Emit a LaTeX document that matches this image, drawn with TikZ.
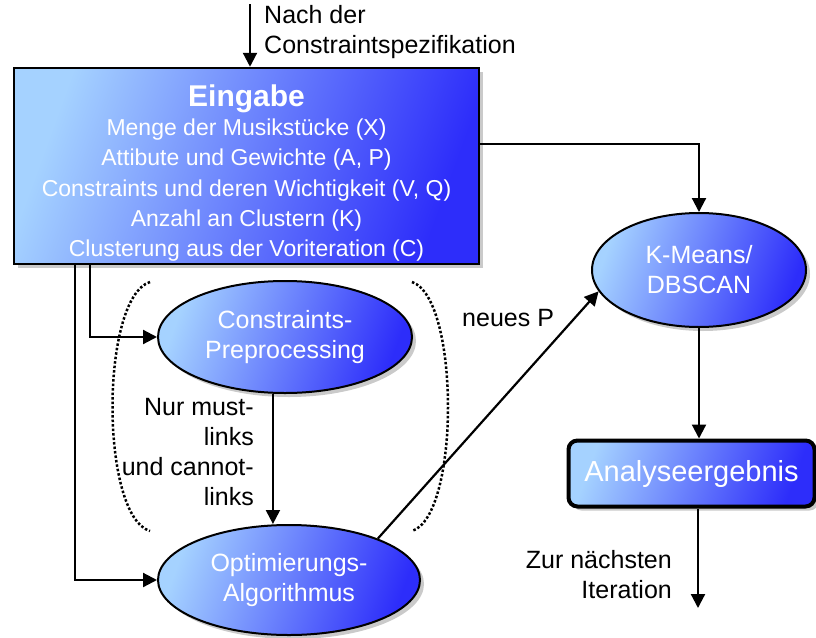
\documentclass[tikz,border=0pt]{standalone}
\usepackage{fontspec}
\setmainfont{Liberation Sans}
\usetikzlibrary{arrows.meta,shapes.geometric,shadows}
\definecolor{lb}{RGB}{165,210,255}
\definecolor{mb}{RGB}{95,125,255}
\definecolor{db}{RGB}{45,45,250}
\begin{document}
\begin{tikzpicture}[x=1pt,y=-1pt,
  blueshade/.style={left color=lb, middle color=mb, right color=db, shading angle=70},
  shad/.style={drop shadow={shadow xshift=4pt, shadow yshift=-4pt, fill=gray!70, opacity=0.6}},
  inbox/.style={rectangle, draw=black, line width=2.5pt, blueshade, shad, text=white, align=center, inner sep=0pt, font=\fontsize{23}{30}\selectfont},
  proc/.style={ellipse, draw=black, line width=2pt, blueshade, shad, text=white, align=center, inner sep=0pt, font=\fontsize{25}{30}\selectfont},
  result/.style={rectangle, rounded corners=9pt, draw=black, line width=4pt, blueshade, shad, text=white, inner sep=0pt, font=\fontsize{29}{32}\selectfont},
  lbl/.style={text=black, font=\fontsize{25}{30}\selectfont, inner sep=0pt},
  arr/.style={draw=black, line width=2.2pt, -{Triangle[length=14pt, width=14pt]}},
  brack/.style={draw=black, line width=2.5pt, dotted}
]
\useasboundingbox (0,0) rectangle (816,637);

% nodes
\node[inbox, minimum width=465pt, minimum height=196pt] (eing) at (246.5,166)
  {\rule{0pt}{36pt}{\fontsize{30}{30}\selectfont\bfseries Eingabe}\\[-1pt]
   Menge der Musikstücke (X)\\
   Attibute und Gewichte (A, P)\\[1pt]
   Constraints und deren Wichtigkeit (V, Q)\\
   Anzahl an Clustern (K)\\
   Clusterung aus der Voriteration (C)};
\node[proc, minimum width=254pt, minimum height=112pt] (cp) at (285,337) {Constraints-\\Preprocessing};
\node[proc, minimum width=262pt, minimum height=110pt] (opt) at (289,580) {Optimierungs-\\Algorithmus};
\node[proc, minimum width=214pt, minimum height=114pt] (km) at (699,270) {K-Means/\\DBSCAN};
\node[result, minimum width=246pt, minimum height=66pt] (ana) at (691.5,473.5) {Analyseergebnis};

% labels
\node[lbl, anchor=west, align=left] (nach) at (264,32) {Nach der\\Constraintspezifikation};
\node[lbl, anchor=east, align=right] (nur) at (254,452) {Nur must-\\links\\und cannot-\\links};
\node[lbl, anchor=east, align=right] (zur) at (672,575) {Zur nächsten\\Iteration};

% helper coordinates
\coordinate (topin) at (250,4);
\coordinate (c75) at (75,0);
\coordinate (c90) at (90,0);
\coordinate (c144) at (0,144);
\coordinate (out) at (698,608);

% connectors
\draw[arr] (topin) -- (topin |- eing.north);
\draw[arr] (eing.east |- c144) -| (km.north);
\draw[arr] (eing.south -| c90) |- (cp.west);
\draw[arr] (eing.south -| c75) |- (opt.west);
\draw[arr] (cp.-102) -- (cp.-102 |- opt.north);
\draw[arr] (opt.25) -- node[lbl, pos=0.83, above left=6pt] (np) {neues P} (km.192);
\draw[arr] (km.south) -- (km.south |- ana.north);
\draw[arr] (out |- ana.south) -- (out);

% dotted brackets
\draw[brack] (150,282) .. controls (100,298) and (100,516) .. (150,531);
\draw[brack] (412,282) .. controls (460,298) and (460,516) .. (412,531);
\end{tikzpicture}
\end{document}
